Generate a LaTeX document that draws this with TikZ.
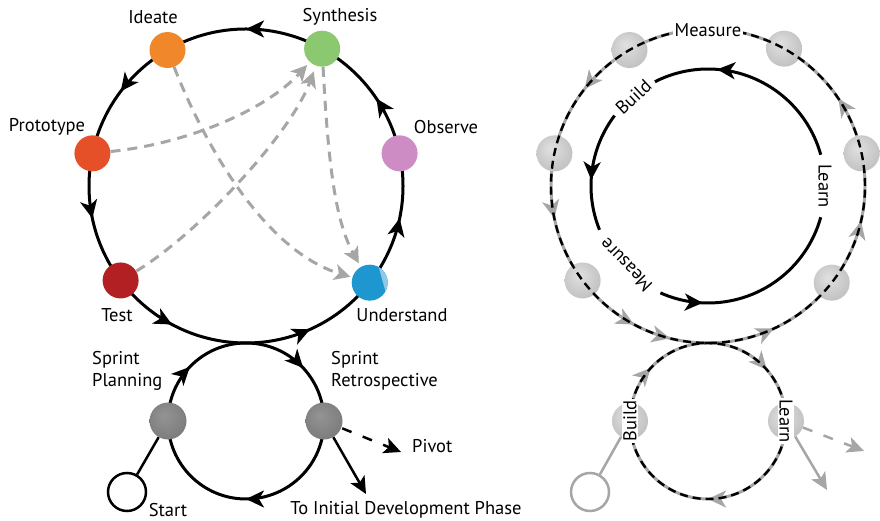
\documentclass[tikz,border=0pt]{standalone}
\usepackage{fontspec}
\setmainfont{PT Sans}
\usetikzlibrary{arrows.meta,decorations.markings}

\definecolor{cIdeate}{RGB}{240,135,42}
\definecolor{cSynth}{RGB}{140,200,112}
\definecolor{cObserve}{RGB}{205,140,196}
\definecolor{cProto}{RGB}{230,80,40}
\definecolor{cTest}{RGB}{178,32,36}
\definecolor{cUnder}{RGB}{30,150,208}
\definecolor{cUnderLt}{RGB}{145,200,230}
\definecolor{cFlow}{RGB}{166,166,166}

% sphere shadings for the grey stage markers
\pgfdeclareradialshading{sphereLight}{\pgfpoint{-6bp}{8bp}}{color(0bp)=(black!12); color(50bp)=(black!33)}
\pgfdeclareradialshading{sphereDark}{\pgfpoint{-6bp}{8bp}}{color(0bp)=(black!42); color(50bp)=(black!58)}

% arrowheads placed along the loops
\newcommand\btip{\arrow{Stealth[length=18pt,width=17pt,inset=5pt]}}
\newcommand\gtip{\arrow[cFlow]{Stealth[length=18pt,width=17pt,inset=5pt]}}

\tikzset{
  lbl/.style={font=\fontsize{18.5}{22}\selectfont, inner sep=0pt},
  loopline/.style={line width=3pt, black},
  rimline/.style={line width=3pt, cFlow},
  dashline/.style={line width=2.4pt, black, dash pattern=on 8pt off 5pt},
  flowline/.style={line width=3pt, cFlow, dash pattern=on 10pt off 7pt},
  gry/.tip={Stealth[length=16pt,width=16pt,inset=4pt,color=cFlow]},
  bigtip/.tip={Stealth[length=17pt,width=16pt,inset=4pt]},
  stage/.style={circle, minimum size=36pt, inner sep=0pt, fill=#1},
  ball/.style={circle, minimum size=36pt, inner sep=0pt, shading=sphereLight},
  darkball/.style={circle, minimum size=37pt, inner sep=0pt, shading=sphereDark},
  startring/.style={circle, minimum size=38pt, inner sep=0pt, fill=white, draw=#1, line width=2.5pt},
  tagbox/.style={lbl, fill=white, inner sep=2pt},
}

\begin{document}
\begin{tikzpicture}[x=1pt, y=1pt]
\useasboundingbox (0,0) rectangle (880,521);

% ---------------- left: design-thinking cycle ----------------
\coordinate (L) at (246,335);
\coordinate (S) at (246,100);

\draw[loopline, postaction={decorate}, decoration={markings,
    mark=at position 0.094 with {\btip},
    mark=at position 0.250 with {\btip},
    mark=at position 0.397 with {\btip},
    mark=at position 0.533 with {\btip},
    mark=at position 0.672 with {\btip},
    mark=at position 0.817 with {\btip},
    mark=at position 0.967 with {\btip}}]
  (L) ++(0:157pt) arc[start angle=0, end angle=360, radius=157pt];

\draw[loopline, postaction={decorate}, decoration={markings,
    mark=at position 0.250 with {\btip},
    mark=at position 0.622 with {\btip},
    mark=at position 0.881 with {\btip}}]
  (S) ++(0:78pt) arc[start angle=360, end angle=0, radius=78pt];

\node[stage=cIdeate]  (ideate)  at ([shift={(120:157pt)}]L) {};
\node[stage=cSynth]   (synth)   at ([shift={(61:157pt)}]L) {};
\node[stage=cObserve] (observe) at ([shift={(12:157pt)}]L) {};
\node[stage=cProto]   (proto)   at ([shift={(168:157pt)}]L) {};
\node[stage=cTest]    (test)    at ([shift={(217:157pt)}]L) {};
\node[stage=cUnder]   (under)   at ([shift={(322:157pt)}]L) {};
\fill[cUnderLt] ([shift={(-29:18pt)}]under.center) arc[start angle=-29, end angle=60, radius=18pt] -- cycle;

\node[darkball] (plan)  at ([shift={(180:78pt)}]S) {};
\node[darkball] (retro) at ([shift={(0:78pt)}]S) {};
\node[startring=black] (start) at (127,29) {};

\node[lbl] at (153,504) {Ideate};
\node[lbl] at (340,504) {Synthesis};
\node[lbl] at (47,394) {Prototype};
\node[lbl] at (446,394) {Observe};
\node[lbl] at (117,206) {Test};
\node[lbl] at (402,206) {Understand};
\node[lbl, anchor=west, align=left] at (92,150) {Sprint\\Planning};
\node[lbl, anchor=west, align=left] at (331,150) {Sprint\\Retrospective};
\node[lbl] at (168,11) {Start};
\node[lbl] at (406,11) {To Initial Development Phase};
\node[lbl, anchor=west] at (412,75) {Pivot};

% cross links between stages
\draw[flowline, -gry, shorten >=2pt] (ideate) .. controls (205,375) and (265,270) .. (under);
\draw[flowline, -gry, shorten >=4pt] (proto) .. controls (185,377) and (265,410) .. (synth);
\draw[flowline, -gry, shorten >=6pt] (test) .. controls (195,285) and (290,385) .. (synth);
\draw[flowline, -gry, shorten >=4pt] (synth) .. controls (328,360) and (335,300) .. (under);

% exits of the sprint loop
\coordinate (devend) at (366,27);
\coordinate (pivotend) at (401,69);
\draw[line width=2.5pt, -bigtip] (retro) -- (devend);
\draw[line width=2.5pt, dash pattern=on 10pt off 12pt, -bigtip, shorten <=1pt] (retro) -- (pivotend);
\draw[line width=2.5pt] (start) -- (plan);

% ---------------- right: build-measure-learn ----------------
\coordinate (R) at (708,335);
\coordinate (T) at (708,100);

% outer ring: grey base with arrowheads
\draw[rimline, postaction={decorate}, decoration={markings,
    mark=at position 0.094 with {\gtip},
    mark=at position 0.394 with {\gtip},
    mark=at position 0.533 with {\gtip},
    mark=at position 0.672 with {\gtip},
    mark=at position 0.711 with {\btip},
    mark=at position 0.819 with {\gtip},
    mark=at position 0.964 with {\gtip}}]
  (R) ++(0:157pt) arc[start angle=0, end angle=360, radius=157pt];
% lower ring: grey base with arrowheads
\draw[rimline, postaction={decorate}, decoration={markings,
    mark=at position 0.250 with {\btip},
    mark=at position 0.619 with {\gtip},
    mark=at position 0.886 with {\gtip}}]
  (T) ++(0:78pt) arc[start angle=360, end angle=0, radius=78pt];

\foreach \a/\n in {120/o1, 61/o2, 168/o3, 12/o4, 217/o5, 322/o6}
  \node[ball] (\n) at ([shift={(\a:157pt)}]R) {};

% black dashes over the grey rings
\draw[dashline] (R) ++(0:157pt) arc[start angle=0, end angle=360, radius=157pt];
\draw[dashline] (T) ++(0:78pt) arc[start angle=360, end angle=0, radius=78pt];

\node[tagbox] at (708,491) {Measure};

% inner solid ring, broken by its labels
\draw[loopline, postaction={decorate}, decoration={markings,
    mark=at position 0.69 with {\btip}}]
  (R) ++(15.5:117pt) arc[start angle=15.5, end angle=117, radius=117pt];
\draw[loopline, postaction={decorate}, decoration={markings,
    mark=at position 0.576 with {\btip}}]
  (R) ++(143:117pt) arc[start angle=143, end angle=202, radius=117pt];
\draw[loopline, postaction={decorate}, decoration={markings,
    mark=at position 0.218 with {\btip}}]
  (R) ++(246:117pt) arc[start angle=246, end angle=344.5, radius=117pt];
\node[lbl, rotate=43] at ([shift={(130:116pt)}]R) {Build};
\node[lbl, rotate=-90] at ([shift={(0:117pt)}]R) {Learn};
\node[lbl, rotate=134] at ([shift={(224:114pt)}]R) {Measure};

% lower ring stages
\node[ball] (rbuild) at ([shift={(180:78pt)}]T) {};
\node[ball] (rlearn) at ([shift={(0:78pt)}]T) {};
\node[tagbox, inner sep=1pt, rotate=90] at (rbuild) {Build};
\node[tagbox, inner sep=1pt, rotate=-90] at (rlearn) {Learn};
\node[startring=cFlow] (rstart) at (590,29) {};

\coordinate (rdevend) at (827,31);
\coordinate (rpivotend) at (864,70);
\draw[line width=2.5pt, cFlow, -{Stealth[length=17pt,width=16pt,inset=4pt]}] (rlearn) -- (rdevend);
\draw[line width=2.5pt, cFlow, dash pattern=on 10pt off 12pt, -{Stealth[length=17pt,width=16pt,inset=4pt]}] (rlearn) -- (rpivotend);
\draw[line width=2.5pt, cFlow] (rstart) -- (rbuild);

\end{tikzpicture}
\end{document}
